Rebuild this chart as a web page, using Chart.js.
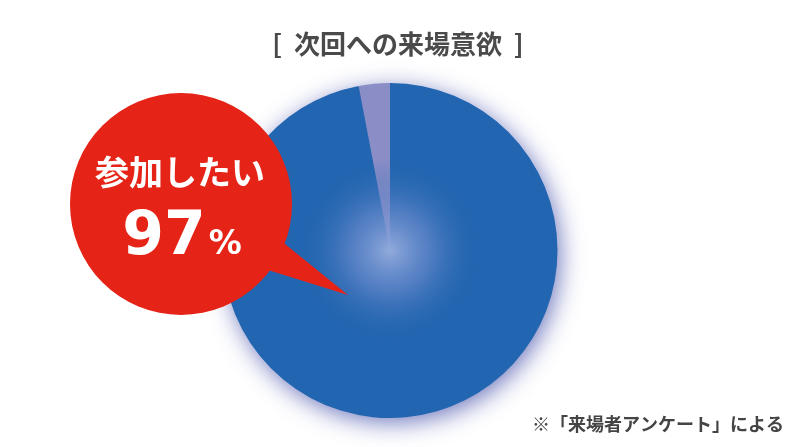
<!DOCTYPE html>
<html lang="ja">
<head>
<meta charset="utf-8">
<script src="https://cdn.jsdelivr.net/npm/chart.js@4"></script>
<style>
  html, body { margin: 0; padding: 0; background: #fff; }
  #wrap { width: 800px; height: 447px; position: relative; }
</style>
</head>
<body>
<div id="wrap"><canvas id="chart"></canvas></div>
<script>
const titleText = "[ 次回への来場意欲 ]";
const noteText  = "※「来場者アンケート」による";
const labels    = ["参加したい", "その他"];
const values    = [97, 3];
const colors    = ["#2265b0", "#8a8dc6"];

const FONT = '"Noto Sans CJK JP", "Noto Sans", sans-serif';

// glow behind the pie
const glowPlugin = {
  id: "glow",
  beforeDatasetsDraw(chart) {
    const arc = chart.getDatasetMeta(0).data[0];
    if (!arc) return;
    const ctx = chart.ctx;
    ctx.save();
    ctx.shadowColor = "rgba(70,80,170,0.8)";
    ctx.shadowBlur = 24;
    ctx.shadowOffsetX = 3;
    ctx.shadowOffsetY = 5;
    ctx.fillStyle = "#2265b0";
    ctx.beginPath();
    ctx.arc(arc.x, arc.y, arc.outerRadius - 1, 0, Math.PI * 2);
    ctx.fill();
    ctx.restore();
  },
  afterDatasetsDraw(chart) {
    // soft light in the middle
    const arc = chart.getDatasetMeta(0).data[0];
    if (!arc) return;
    const ctx = chart.ctx;
    const R = 92;
    const g = ctx.createRadialGradient(arc.x, arc.y, 0, arc.x, arc.y, R);
    g.addColorStop(0, "rgba(145,170,220,1)");
    g.addColorStop(0.45, "rgba(110,140,205,0.6)");
    g.addColorStop(1, "rgba(34,101,176,0)");
    ctx.save();
    ctx.fillStyle = g;
    ctx.beginPath();
    ctx.arc(arc.x, arc.y, R, 0, Math.PI * 2);
    ctx.fill();
    ctx.restore();
  }
};

// title, note and the red speech bubble
const textPlugin = {
  id: "texts",
  afterDraw(chart) {
    const ctx = chart.ctx;
    ctx.save();
    ctx.textAlign = "center";
    ctx.textBaseline = "middle";
    ctx.fillStyle = "#4a4a4a";
    ctx.font = "bold 26px " + FONT;
    ctx.fillText(titleText.replace(/ /g, "  "), 398, 44);

    ctx.textAlign = "right";
    ctx.fillStyle = "#444";
    ctx.font = "bold 18px " + FONT;
    ctx.fillText(noteText, 784, 424);

    // bubble
    const cx = 181, cy = 204, r = 111;
    ctx.fillStyle = "#e52316";
    ctx.beginPath();
    ctx.arc(cx, cy, r, 0, Math.PI * 2);
    ctx.fill();
    ctx.beginPath();
    ctx.moveTo(280, 240);
    ctx.lineTo(348, 295);
    ctx.lineTo(268, 270);
    ctx.closePath();
    ctx.fill();

    ctx.fillStyle = "#fff";
    ctx.textAlign = "center";
    ctx.font = "bold 34px " + FONT;
    ctx.fillText(labels[0], 180, 172);

    ctx.textAlign = "left";
    ctx.textBaseline = "alphabetic";
    const big = "bold 60px 'DejaVu Sans', " + FONT;
    const small = "bold 33px 'DejaVu Sans', " + FONT;
    const num = String(values[0]);
    ctx.font = big;
    const w1 = ctx.measureText(num).width;
    ctx.font = small;
    const w2 = ctx.measureText("%").width;
    const x0 = 182 - (w1 + w2 + 3) / 2;
    ctx.font = big;
    ctx.fillText(num, x0, 254);
    ctx.font = small;
    ctx.fillText("%", x0 + w1 + 3, 254);
    ctx.restore();
  }
};

new Chart(document.getElementById("chart"), {
  type: "pie",
  data: {
    labels,
    datasets: [{
      data: values,
      backgroundColor: colors,
      borderWidth: 0
    }]
  },
  options: {
    responsive: true,
    maintainAspectRatio: false,
    animation: false,
    layout: { padding: { left: 222, right: 242, top: 83, bottom: 29 } },
    plugins: {
      legend: { display: false },
      tooltip: { enabled: false }
    }
  },
  plugins: [glowPlugin, textPlugin]
});
</script>
</body>
</html>
